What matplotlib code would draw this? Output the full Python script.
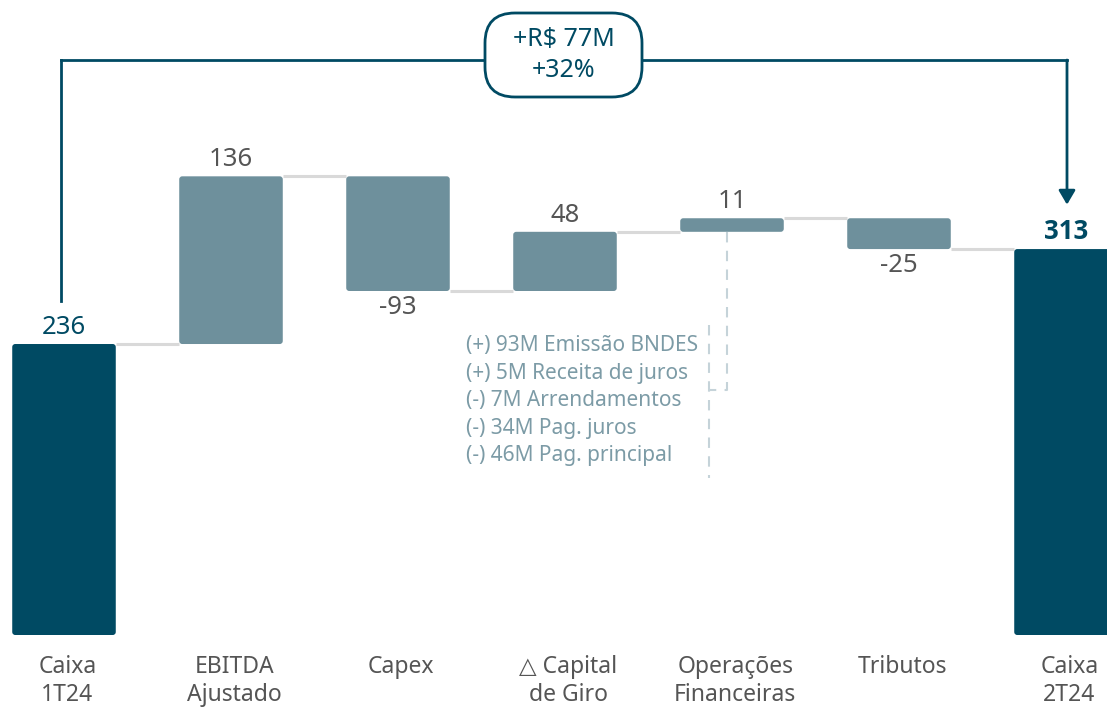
import matplotlib
matplotlib.use("Agg")
import matplotlib.pyplot as plt
from matplotlib.patches import FancyBboxPatch
import numpy as np

categories = ["Caixa\n1T24", "EBITDA\nAjustado", "Capex", "△ Capital\nde Giro",
              "Operações\nFinanceiras", "Tributos", "Caixa\n2T24"]
values = [236, 136, -93, 48, 11, -25, 313]
labels = ["236", "136", "-93", "48", "11", "-25", "313"]
is_total = [True, False, False, False, False, False, True]
note_lines = ["(+) 93M Emissão BNDES", "(+) 5M Receita de juros", "(-) 7M Arrendamentos",
              "(-) 34M Pag. juros", "(-) 46M Pag. principal"]
delta_text = "+R$ 77M\n+32%"

DARK = "#004A63"
MID = "#6E909C"
NOTE = "#7C9BA6"
GRAY_TXT = "#555555"
CONN = "#D9D9D9"
DASH = "#C5D3D9"
FONT = ["Noto Sans", "DejaVu Sans"]
plt.rcParams["font.family"] = FONT

W, H = 1107, 708
fig = plt.figure(figsize=(W / 100, H / 100), dpi=100)
ax = fig.add_axes([0, 0, 1, 1])
px_x = 167.0    # pixels per category
px_y = 1.233    # pixels per unit
x0_px, base_px = 64, 635
ax.set_xlim(-x0_px / px_x, (W - x0_px) / px_x)
ax.set_ylim(-(H - base_px) / px_y, base_px / px_y)
ax.axis("off")
aspect = px_x / px_y

# waterfall geometry
bottoms, heights = [], []
running = 0
for v, tot in zip(values, is_total):
    if tot:
        bottoms.append(0); heights.append(v); running = v
    else:
        lo = min(running, running + v)
        bottoms.append(lo); heights.append(abs(v)); running += v
x = np.arange(len(values))
width = 0.62
colors = [DARK if t else MID for t in is_total]
bars = ax.bar(x, heights, bottom=bottoms, width=width, color=colors)
for p, c in zip(bars, colors):
    p.set_visible(False)
    ax.add_patch(FancyBboxPatch((p.get_x(), p.get_y()), p.get_width(), p.get_height(),
                                boxstyle=f"round,pad=0,rounding_size={3 / px_x}",
                                mutation_aspect=aspect, fc=c, ec="none", zorder=3))

# connectors
running = 0
levels = []
for v, tot in zip(values, is_total):
    running = v if tot else running + v
    levels.append(running)
for i in range(len(values) - 1):
    ax.plot([x[i] + width / 2, x[i + 1] - width / 2], [levels[i], levels[i]],
            color=CONN, lw=2.2, zorder=2, solid_capstyle="butt")

# value labels
for i, (v, lab, tot) in enumerate(zip(values, labels, is_total)):
    top = bottoms[i] + heights[i]
    bot = bottoms[i]
    if v >= 0:
        last = i == len(values) - 1
        ax.annotate(lab, (x[i], top), xytext=(0, 3), textcoords="offset points",
                    ha="center", va="bottom", fontsize=18.5,
                    color=DARK if tot else GRAY_TXT,
                    family=["Open Sans", "DejaVu Sans"] if last else FONT,
                    fontweight="bold" if last else "normal")
    else:
        ax.annotate(lab, (x[i], bot), xytext=(0, -3), textcoords="offset points",
                    ha="center", va="top", fontsize=18.5, color=GRAY_TXT)

# category labels
for i, c in enumerate(categories):
    ax.text(x[i] + 0.02, -20 / px_y, c, ha="center", va="top", fontsize=16.5,
            color=GRAY_TXT, linespacing=1.22)

# top bracket with delta box
y_line = (base_px - 60) / px_y
xl = (61 - x0_px) / px_x
xr = (1067 - x0_px) / px_x
ax.plot([xl, xl], [values[0] + 36 / px_y * 1.2, y_line], color=DARK, lw=2, zorder=4)
ax.plot([xl, xr], [y_line, y_line], color=DARK, lw=2, zorder=4, solid_capstyle="projecting")
ax.annotate("", xy=(xr, values[-1] + 36), xytext=(xr, y_line),
            arrowprops=dict(arrowstyle="-|>,head_length=0.85,head_width=0.5",
                            color=DARK, lw=2, shrinkA=0, shrinkB=0), zorder=4)
bx_c = (563.5 - x0_px) / px_x
by_c = (base_px - 55) / px_y
bw, bh = 157 / px_x, 84 / px_y
ax.add_patch(FancyBboxPatch((bx_c - bw / 2, by_c - bh / 2), bw, bh,
                            boxstyle=f"round,pad=0,rounding_size={30 / px_x}",
                            mutation_aspect=aspect, fc="white", ec=DARK, lw=2, zorder=5))
ax.text(bx_c, by_c, delta_text, ha="center", va="center", fontsize=18,
        color=DARK, linespacing=1.3, zorder=6)

# dashed bracket for financial operations
xo = (727 - x0_px) / px_x
xn = (709 - x0_px) / px_x
y_ob = bottoms[4]
y_mid = (base_px - 390) / px_y
ax.plot([xo, xo, xn], [y_ob, y_mid, y_mid], color=DASH, lw=1.5, ls=(0, (5, 4)), zorder=2)
ax.plot([xn, xn], [(base_px - 325) / px_y, (base_px - 478) / px_y], color=DASH, lw=1.5,
        ls=(0, (5, 4)), zorder=2)

# notes
xt = (466 - x0_px) / px_x
for k, line in enumerate(note_lines):
    ax.text(xt, (base_px - (346 + 27.5 * k)) / px_y, line, ha="left", va="center",
            fontsize=15, color=NOTE)

fig.savefig("out.png", dpi=100, facecolor="white")
